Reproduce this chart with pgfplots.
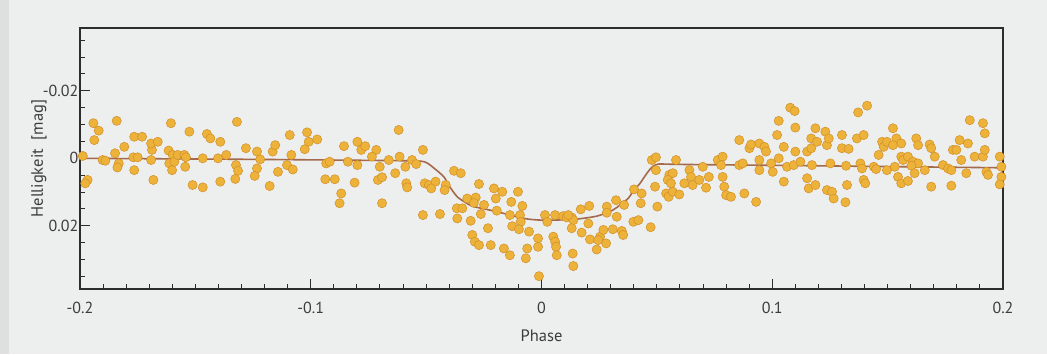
\documentclass[border=0pt]{standalone}
\usepackage{pgfplots}
\pgfplotsset{compat=1.18}
\usepackage{fontspec}
\setmainfont{PT Sans}
\definecolor{bgcol}{RGB}{237,238,238}
\definecolor{stripcol}{RGB}{222,223,223}
\definecolor{dotfill}{RGB}{236,178,58}
\definecolor{dotdraw}{RGB}{210,143,38}
\definecolor{modelcol}{RGB}{165,105,75}
\definecolor{txtcol}{RGB}{60,60,60}
\definecolor{axcol}{RGB}{45,45,45}
\begin{document}
\begin{tikzpicture}
\path[use as bounding box, fill=bgcol] (0pt,0pt) rectangle (1047pt,354pt);
\fill[stripcol] (0pt,0pt) rectangle (9pt,354pt);
\begin{axis}[
  scale only axis, width=923pt, height=261pt,
  at={(80pt,65pt)}, anchor=south west,
  xmin=-0.2, xmax=0.2, ymin=-0.0386, ymax=0.0387, y dir=reverse,
  scaled ticks=false,
  clip=false,
  axis line style={axcol, line width=1.1pt},
  tick pos=left, tick align=inside,
  xtick={-0.2,-0.1,0,0.1,0.2},
  xticklabels={-0.2,-0.1,0,0.1,0.2},
  minor x tick num=9,
  ytick={-0.02,0,0.02},
  yticklabels={-0.02,0,0.02},
  minor ytick={-0.035,-0.03,-0.025,-0.015,-0.01,-0.005,0.005,0.01,0.015,0.025,0.03,0.035},
  major tick length=10pt, minor tick length=5pt,
  every tick/.style={axcol, line width=1pt},
  tick label style={font=\fontsize{16}{18}\selectfont, text=txtcol},
  yticklabel style={inner xsep=1.5pt},
  xticklabel style={yshift=-10pt},
  label style={font=\fontsize{16.5}{18}\selectfont, text=txtcol},
  xlabel={Phase},
  ylabel={Helligkeit\ \ [mag]},
  xlabel style={at={(axis description cs:0.5,-0.180)}, anchor=center},
  ylabel style={at={(axis description cs:-0.0444,0.5)}, anchor=center},
]
\draw[axcol, line width=1.7pt] (rel axis cs:0,1) -- (rel axis cs:1,1);
\addplot[modelcol, line width=1.6pt, smooth, tension=0.4] coordinates {
(-0.2000,0.0000) (-0.1263,0.0003) (-0.0613,0.0007) (-0.0509,0.0010)
(-0.0466,0.0029) (-0.0423,0.0055) (-0.0397,0.0085) (-0.0365,0.0114)
(-0.0327,0.0132) (-0.0293,0.0143) (-0.0193,0.0158) (-0.0076,0.0178)
(0.0002,0.0183) (0.0137,0.0181) (0.0241,0.0171) (0.0310,0.0153)
(0.0340,0.0138) (0.0375,0.0119) (0.0401,0.0094) (0.0427,0.0074)
(0.0457,0.0044) (0.0479,0.0026) (0.0505,0.0017) (0.0600,0.0018)
(0.1034,0.0021) (0.2000,0.0028)
};
\addplot[only marks, mark=*, mark size=4.6pt, mark options={fill=dotfill, draw=dotdraw, line width=0.5pt}] coordinates {
(-0.1942,-0.0104) (-0.1919,-0.0082) (-0.1938,-0.0054) (-0.1841,-0.0111) (-0.1988,-0.0007)
(-0.1902,0.0005) (-0.1890,0.0007) (-0.1848,-0.0015) (-0.1832,0.0015) (-0.1838,0.0027)
(-0.1808,-0.0034) (-0.1765,-0.0064) (-0.1731,-0.0064) (-0.1769,-0.0003) (-0.1750,-0.0003)
(-0.1765,0.0035) (-0.1692,0.0005) (-0.1688,-0.0025) (-0.1692,-0.0044) (-0.1663,-0.0049)
(-0.1682,0.0064) (-0.1606,-0.0104) (-0.1616,-0.0023) (-0.1598,-0.0010) (-0.1613,0.0015)
(-0.1591,0.0010) (-0.1601,0.0035) (-0.1577,-0.0010) (-0.1548,-0.0010) (-0.1541,-0.0003)
(-0.1544,0.0025) (-0.1526,-0.0079) (-0.1967,0.0064) (-0.1977,0.0074) (-0.1512,0.0079)
(-0.1450,-0.0072) (-0.1435,-0.0059) (-0.1392,-0.0049) (-0.1320,-0.0108) (-0.1468,0.0000)
(-0.1402,0.0000) (-0.1366,-0.0010) (-0.1468,0.0086) (-0.1392,0.0069) (-0.1324,0.0020)
(-0.1315,0.0037) (-0.1327,0.0061) (-0.1281,-0.0030) (-0.1233,-0.0020) (-0.1219,0.0003)
(-0.1233,0.0030) (-0.1243,0.0052) (-0.1178,0.0082) (-0.1165,-0.0020) (-0.1154,-0.0039)
(-0.1142,0.0040) (-0.1091,-0.0069) (-0.1084,-0.0010) (-0.1103,0.0020) (-0.1078,0.0033)
(-0.1016,-0.0077) (-0.1009,-0.0049) (-0.1026,-0.0027) (-0.0972,-0.0056) (-0.0933,0.0015)
(-0.0918,0.0010) (-0.0937,0.0062) (-0.0896,0.0062) (-0.0856,-0.0036) (-0.0839,0.0010)
(-0.0798,0.0020) (-0.0810,0.0072) (-0.0868,0.0104) (-0.0875,0.0133) (-0.0798,-0.0049)
(-0.0781,-0.0025) (-0.0764,-0.0036) (-0.0716,-0.0025) (-0.0735,-0.0005) (-0.0701,0.0025)
(-0.0709,0.0064) (-0.0691,0.0056) (-0.0691,0.0133) (-0.0662,0.0005) (-0.0634,0.0044)
(-0.0619,-0.0084) (-0.0615,-0.0005) (-0.0590,0.0025) (-0.0586,0.0074) (-0.0582,0.0086)
(-0.0561,0.0005) (-0.0543,0.0017) (-0.0514,-0.0025) (-0.0506,0.0074) (-0.0514,0.0168)
(-0.0379,0.0037) (-0.0350,0.0044) (-0.0488,0.0079) (-0.0459,0.0069) (-0.0478,0.0089)
(-0.0415,0.0079) (-0.0420,0.0094) (-0.0440,0.0165) (-0.0271,0.0076) (-0.0206,0.0089)
(-0.0170,0.0099) (-0.0198,0.0119) (-0.0102,0.0099) (-0.0131,0.0129) (-0.0083,0.0141)
(-0.0322,0.0119) (-0.0285,0.0116) (-0.0293,0.0132) (-0.0249,0.0138) (-0.0367,0.0148)
(-0.0343,0.0148) (-0.0365,0.0178) (-0.0307,0.0185) (-0.0263,0.0165) (-0.0194,0.0155)
(-0.0137,0.0168) (-0.0093,0.0168) (-0.0090,0.0188) (-0.0127,0.0201) (-0.0098,0.0210)
(-0.0054,0.0217) (-0.0232,0.0207) (-0.0300,0.0227) (-0.0289,0.0247) (-0.0271,0.0257)
(-0.0220,0.0257) (-0.0163,0.0267) (-0.0137,0.0287) (-0.0062,0.0267) (-0.0068,0.0296)
(-0.0015,0.0237) (-0.0015,0.0262) (-0.0011,0.0349)
(0.0015,0.0168) (0.0025,0.0188) (0.0059,0.0168) (0.0094,0.0171) (0.0109,0.0175)
(0.0131,0.0175) (0.0138,0.0183) (0.0116,0.0168) (0.0051,0.0232) (0.0059,0.0247)
(0.0063,0.0262) (0.0066,0.0287) (0.0131,0.0207) (0.0135,0.0282) (0.0138,0.0319)
(0.0170,0.0151) (0.0207,0.0141) (0.0203,0.0193) (0.0174,0.0220) (0.0210,0.0240)
(0.0239,0.0270) (0.0254,0.0232) (0.0246,0.0242) (0.0268,0.0212) (0.0280,0.0252)
(0.0283,0.0143) (0.0283,0.0161) (0.0323,0.0124) (0.0326,0.0173) (0.0309,0.0210)
(0.0348,0.0215) (0.0354,0.0227) (0.0358,0.0138) (0.0401,0.0092) (0.0434,0.0104)
(0.0430,0.0133) (0.0398,0.0188) (0.0420,0.0183) (0.0473,0.0204) (0.0478,0.0005)
(0.0496,-0.0003) (0.0496,0.0035) (0.0492,0.0084) (0.0502,0.0143)
(0.0583,0.0005) (0.0554,0.0049) (0.0569,0.0044) (0.0547,0.0064) (0.0561,0.0074)
(0.0540,0.0104) (0.0551,0.0114) (0.0569,0.0099) (0.0597,0.0107) (0.0619,0.0074)
(0.0641,0.0035) (0.0648,0.0055) (0.0655,0.0079) (0.0684,0.0064) (0.0699,0.0025)
(0.0713,0.0087) (0.0725,0.0055) (0.0764,0.0005) (0.0785,-0.0005) (0.0778,0.0020)
(0.0785,0.0055) (0.0792,0.0084) (0.0800,0.0109) (0.0821,0.0114) (0.0857,-0.0054)
(0.0857,0.0020) (0.0872,0.0015) (0.0879,0.0104) (0.0901,-0.0030) (0.0908,-0.0041)
(0.0944,-0.0044) (0.0966,-0.0034) (0.0973,-0.0020) (0.0930,0.0129) (0.0944,0.0005)
(0.0944,0.0035) (0.0995,0.0015) (0.1002,0.0040)
(0.1028,-0.0111) (0.1021,-0.0069) (0.1050,-0.0034) (0.1028,0.0000) (0.1078,-0.0150)
(0.1097,-0.0140) (0.1100,-0.0091) (0.1064,0.0025) (0.1093,0.0020) (0.1100,-0.0020)
(0.1122,0.0010) (0.1050,0.0069) (0.1151,0.0059) (0.1158,0.0089) (0.1187,0.0079)
(0.1151,-0.0020) (0.1169,-0.0030) (0.1169,-0.0059) (0.1187,-0.0089) (0.1194,-0.0049)
(0.1230,-0.0079) (0.1237,-0.0039) (0.1245,-0.0059) (0.1172,0.0020) (0.1237,0.0094)
(0.1259,0.0099) (0.1266,0.0119) (0.1252,0.0015) (0.1302,-0.0069) (0.1302,-0.0030)
(0.1331,-0.0028) (0.1320,0.0022) (0.1324,0.0079) (0.1317,0.0130) (0.1372,-0.0136)
(0.1411,-0.0156) (0.1367,-0.0059) (0.1396,-0.0069) (0.1382,0.0015) (0.1389,0.0030)
(0.1396,0.0064) (0.1403,0.0074) (0.1440,0.0025) (0.1450,0.0032) (0.1461,-0.0010)
(0.1476,-0.0049) (0.1483,-0.0034) (0.1497,-0.0049) (0.1497,0.0035)
(0.1523,-0.0089) (0.1538,-0.0059) (0.1559,-0.0044) (0.1523,-0.0039) (0.1559,-0.0005)
(0.1567,0.0005) (0.1588,-0.0005) (0.1610,0.0010) (0.1632,0.0015) (0.1603,0.0022)
(0.1531,0.0025) (0.1545,0.0055) (0.1559,0.0074) (0.1588,0.0067) (0.1617,0.0044)
(0.1624,-0.0059) (0.1632,-0.0039) (0.1661,0.0035) (0.1682,-0.0041) (0.1689,-0.0030)
(0.1704,-0.0005) (0.1689,0.0084) (0.1740,0.0020) (0.1762,0.0030) (0.1776,0.0035)
(0.1776,0.0081) (0.1783,-0.0025) (0.1798,-0.0025) (0.1812,-0.0054) (0.1848,-0.0044)
(0.1819,0.0005) (0.1841,0.0044) (0.1856,-0.0113) (0.1877,-0.0005) (0.1913,-0.0005)
(0.1921,-0.0025) (0.1913,-0.0104) (0.1921,-0.0074) (0.1928,0.0040) (0.1935,0.0049)
(0.1986,-0.0005) (0.1993,0.0025) (0.1993,0.0055) (0.1986,0.0077)
};
\end{axis}
\end{tikzpicture}
\end{document}
